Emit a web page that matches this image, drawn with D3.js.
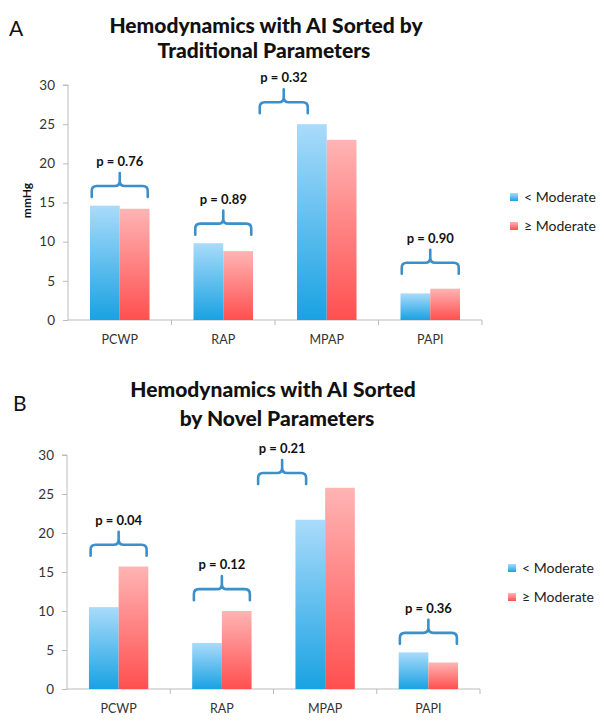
<!DOCTYPE html>
<html><head><meta charset="utf-8">
<script src="https://cdn.jsdelivr.net/npm/d3@7"></script>
<style>body{margin:0;background:#fff}svg{display:block}text{font-family:Lato,"Open Sans",sans-serif}</style>
</head><body>
<svg id="c" width="604" height="724"></svg>
<script>
const categories = ["PCWP", "RAP", "MPAP", "PAPI"];
const seriesNames = ["< Moderate", "\u2265 Moderate"];
const yTicks = [0, 5, 10, 15, 20, 25, 30];

const titleA = ["Hemodynamics with AI Sorted by", "Traditional Parameters"];
const lessA = [14.6, 9.8, 25.0, 3.4];
const moreA = [14.2, 8.8, 23.0, 4.0];
const pA = ["p = 0.76", "p = 0.89", "p = 0.32", "p = 0.90"];
const bracketA = [17.1, 12.3, 27.8, 7.3];

const titleB = ["Hemodynamics with AI Sorted", "by Novel Parameters"];
const lessB = [10.5, 5.9, 21.7, 4.7];
const moreB = [15.7, 10.0, 25.8, 3.4];
const pB = ["p = 0.04", "p = 0.12", "p = 0.21", "p = 0.36"];
const bracketB = [18.5, 12.8, 27.7, 7.2];

// layout (not data)
const bracketShift = [0, 0, -43, 0];   // px horizontal shift of bracket
const bracketWidth = [56, 56, 48, 57];

const svg = d3.select("#c");
const defs = svg.append("defs");
function grad(id, top, bot){
  const g = defs.append("linearGradient").attr("id", id).attr("x1",0).attr("y1",0).attr("x2",0).attr("y2",1);
  g.append("stop").attr("offset","0%").attr("stop-color",top);
  g.append("stop").attr("offset","100%").attr("stop-color",bot);
}
grad("gBlue", "#a9dbfb", "#19a2e2");
grad("gRed", "#ffb4b4", "#ff4f4f");
const fills = ["url(#gBlue)", "url(#gRed)"];

function panel(cfg){
  const g = svg.append("g");
  const y = d3.scaleLinear().domain([0, 30]).range([cfg.y0, cfg.y30]);
  const x0 = d3.scaleBand().domain(categories).range([cfg.xl, cfg.xr]).padding(0);
  const gw = x0.bandwidth() * 0.575;

  g.append("text").attr("x", cfg.letterX).attr("y", cfg.letterY).attr("font-size", 21).attr("fill","#111").text(cfg.letter);
  cfg.title.forEach((t,i)=>{
    g.append("text").attr("x", cfg.titleX[i]).attr("y", cfg.titleY[i]).attr("text-anchor","middle")
      .attr("font-size", 21).attr("font-weight", "900").attr("fill","#111").text(t);
  });

  const ya = d3.axisLeft(y).tickValues(yTicks).tickSize(5).tickPadding(8);
  const yg = g.append("g").attr("transform", `translate(${cfg.xl},0)`).call(ya);
  yg.select(".domain").attr("stroke","#bbb").attr("d", `M-5,${y(30)}H0V${y(0)}`);
  yg.selectAll(".tick line").attr("stroke","#bbb");
  yg.selectAll(".tick text").attr("font-size", 13.5).attr("fill","#333").style("font-family","Lato,'Open Sans',sans-serif");

  const xg = g.append("g");
  xg.append("line").attr("x1", cfg.xl).attr("x2", cfg.xr).attr("y1", y(0)).attr("y2", y(0)).attr("stroke","#bbb");
  categories.forEach((c,i)=>{
    const bx = x0(c) + x0.bandwidth();
    xg.append("line").attr("x1", bx).attr("x2", bx).attr("y1", y(0)).attr("y2", y(0)+5).attr("stroke","#bbb");
    xg.append("text").attr("x", x0(c) + x0.bandwidth()/2).attr("y", y(0)+24).attr("text-anchor","middle")
      .attr("font-size", 12.5).attr("fill","#333").text(c);
  });

  const vals = [cfg.less, cfg.more];
  categories.forEach((c,i)=>{
    const cx = x0(c) + x0.bandwidth()/2;
    const x1 = d3.scaleBand().domain([0,1]).range([cx - gw/2, cx + gw/2]);
    [0,1].forEach(s=>{
      g.append("rect").attr("x", x1(s)).attr("width", x1.bandwidth())
        .attr("y", y(vals[s][i])).attr("height", y(0) - y(vals[s][i])).attr("fill", fills[s]);
    });
    const bw = bracketWidth[i], bxc = cx + bracketShift[i];
    const yh = y(cfg.bracket[i]), leg = 11, sp = 13, r = 5;
    const L = bxc - bw/2, R = bxc + bw/2;
    const d = `M${L},${yh+leg} V${yh+r} Q${L},${yh} ${L+r},${yh} H${bxc-r} Q${bxc},${yh} ${bxc},${yh-r} V${yh-sp}` +
              ` M${bxc},${yh-r} Q${bxc},${yh} ${bxc+r},${yh} H${R-r} Q${R},${yh} ${R},${yh+r} V${yh+leg}`;
    g.append("path").attr("d", d).attr("fill","none").attr("stroke","#3b8fca").attr("stroke-width",2.6).attr("stroke-linecap","round");
    g.append("text").attr("x", bxc).attr("y", yh - 20).attr("text-anchor","middle")
      .attr("font-size", 13).attr("font-weight","bold").attr("fill","#111").text(cfg.p[i]);
  });

  if (cfg.ylabel) {
    g.append("text").attr("transform", `translate(${cfg.xl-37},${(y(0)+y(30))/2 - 2}) rotate(-90)`)
      .attr("text-anchor","middle").attr("font-size", 12).attr("font-weight","bold").attr("fill","#111").text(cfg.ylabel);
  }

  seriesNames.forEach((n,s)=>{
    const ly = cfg.legY + s*29;
    g.append("rect").attr("x", cfg.legX).attr("y", ly-4).attr("width", 8).attr("height", 8).attr("fill", fills[s]);
    g.append("text").attr("x", cfg.legX + 14).attr("y", ly + 5).attr("font-size", 14).attr("fill","#222").text(n);
  });
}

panel({letter:"A", letterX:9, letterY:36, title:titleA, titleX:[266,264], titleY:[33,58],
  y0:320, y30:85, xl:68, xr:482, less:lessA, more:moreA, p:pA, bracket:bracketA, ylabel:"mmHg",
  legX:510, legY:197});
panel({letter:"B", letterX:13, letterY:411, title:titleB, titleX:[273,277], titleY:[397,426],
  y0:689, y30:455, xl:67, xr:480, less:lessB, more:moreB, p:pB, bracket:bracketB, ylabel:null,
  legX:508, legY:568});
</script>
</body></html>
